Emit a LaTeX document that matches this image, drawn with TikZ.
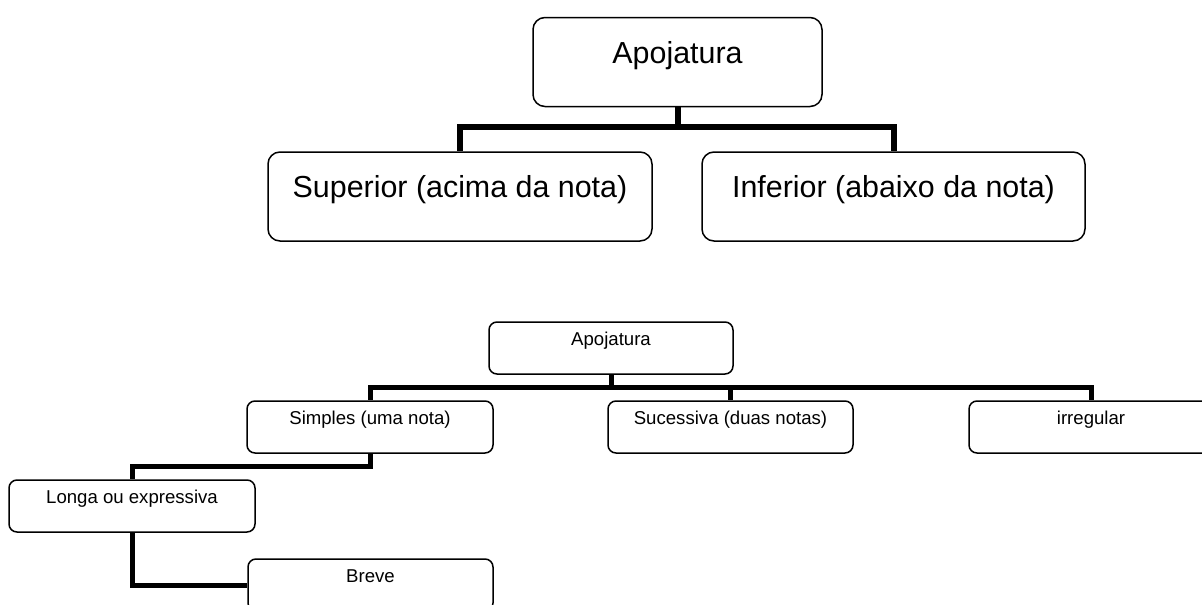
\documentclass[tikz,border=0pt]{standalone}
\usepackage{fontspec}
\setmainfont{Liberation Sans}
\usepackage{tikz}
\usetikzlibrary{positioning}
\tikzset{bigbox/.style={rectangle,rounded corners=12pt,draw=black,line width=1.5pt,fill=white,
inner sep=0pt,minimum height=89pt,font=\fontsize{30.4}{36}\selectfont,
text height=22.8pt,text depth=20.4pt},
smallbox/.style={rectangle,rounded corners=8pt,draw=black,line width=1.5pt,fill=white,
inner sep=0pt,minimum width=246pt,minimum height=52pt,font=\fontsize{18.6}{22}\selectfont,
text height=14pt,text depth=18.6pt},
bigtie/.style={line width=6pt},
smalltie/.style={line width=5pt}}
\begin{document}
\begin{tikzpicture}[x=1pt,y=-1pt]
  \clip (0,0) rectangle (1202,605);
  \fill[white] (0,0) rectangle (1202,605);
  % first chart
  \node(A) [bigbox,minimum width=289pt] at (677.5,62) {Apojatura};
  \node(Sup) [bigbox,minimum width=384pt] at (460,196.5) {Superior (acima da nota)};
  \node(Inf) [bigbox,minimum width=383pt] at (893.5,196.5) {Inferior (abaixo da nota)};
  % second chart
  \node(Ab) [smallbox,minimum width=244pt] at (611,348) {Apojatura};
  \node(Sim) [smallbox] at (370,427) {Simples (uma nota)};
  \node(Suc) [smallbox,minimum width=245pt] at (730.5,427) {Sucessiva (duas notas)};
  \node(Irr) [smallbox,minimum width=244pt] at (1091,427) {irregular};
  \node(Lon) [smallbox] at (132,506) {Longa ou expressiva};
  \node(Bre) [smallbox,minimum width=245pt] at (370.5,585) {Breve};

\draw[bigtie]
(A.south)
   -- ++(0,20) -|
(Sup.north);
\draw[bigtie]
(A.south)
   -- ++(0,20) -|
(Inf.north);
\draw[smalltie]
(Ab.south)
   -- ++(0,13) -|
(Sim.north);
\draw[smalltie]
(Ab.south)
   -- ++(0,13) -|
(Suc.north);
\draw[smalltie]
(Ab.south)
   -- ++(0,13) -|
(Irr.north);
\draw[smalltie]
(Sim.south)
   -- ++(0,13) -|
(Lon.north);
\draw[smalltie]
(Lon.south)
   |-
(Bre.west);
\end{tikzpicture}
\end{document}
